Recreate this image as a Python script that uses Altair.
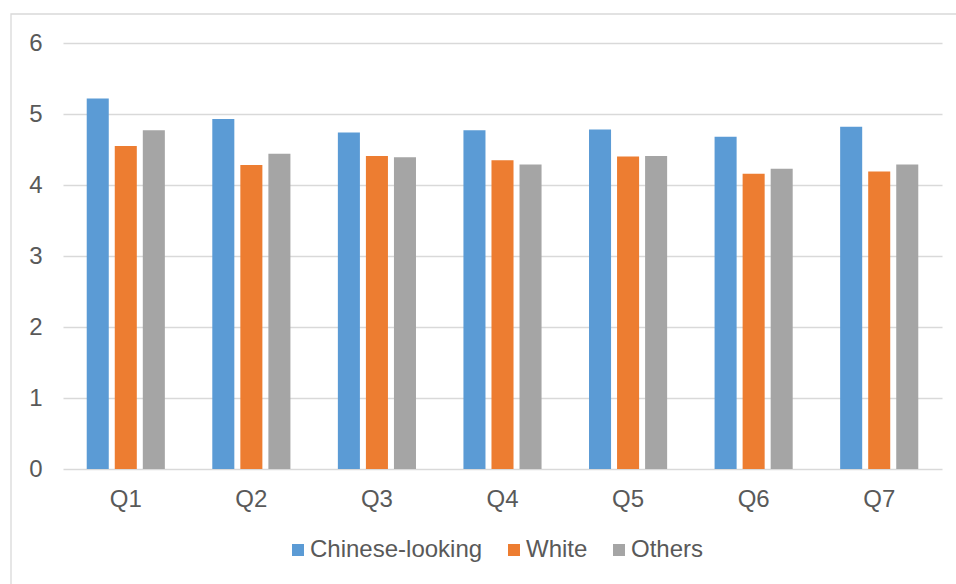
import altair as alt
import pandas as pd

questions = ["Q1", "Q2", "Q3", "Q4", "Q5", "Q6", "Q7"]
groups = ["Chinese-looking", "White", "Others"]
chinese_looking = [5.22, 4.93, 4.74, 4.77, 4.78, 4.68, 4.82]
white = [4.55, 4.28, 4.41, 4.35, 4.40, 4.16, 4.19]
others = [4.77, 4.44, 4.39, 4.29, 4.41, 4.23, 4.29]
colors = ["#5B9BD5", "#ED7D31", "#A5A5A5"]
y_ticks = [0, 1, 2, 3, 4, 5, 6]

rows = []
for g, vals in zip(groups, [chinese_looking, white, others]):
    for q, v in zip(questions, vals):
        rows.append({"question": q, "group": g, "value": v})
df = pd.DataFrame(rows)

FONT = "Liberation Sans"
TXT = "#595959"
FS = 24
W, H = 879, 426

bars = alt.Chart(df).mark_bar().encode(
    x=alt.X("question:N", sort=questions,
            scale=alt.Scale(paddingInner=0, paddingOuter=0),
            axis=alt.Axis(title=None, labelAngle=0, ticks=False, domain=False,
                          grid=False, labelPadding=18, labelFontSize=FS,
                          labelColor=TXT, labelFont=FONT)),
    xOffset=alt.XOffset("group:N", sort=groups,
                        scale=alt.Scale(paddingInner=0.214, paddingOuter=0.846)),
    y=alt.Y("value:Q", scale=alt.Scale(domain=[0, 6], nice=False),
            axis=alt.Axis(title=None, values=y_ticks, ticks=False, domain=False,
                          grid=True, gridColor="#D9D9D9", gridWidth=1.3,
                          labelPadding=21, labelFontSize=FS, labelColor=TXT,
                          labelFont=FONT)),
    color=alt.Color("group:N", sort=groups,
                    scale=alt.Scale(domain=groups, range=colors),
                    legend=alt.Legend(title=None, orient="none", direction="horizontal",
                                      legendX=223, legendY=495,
                                      symbolType="square", symbolSize=144,
                                      symbolStrokeWidth=0, labelFontSize=FS,
                                      labelColor=TXT, labelFont=FONT, labelLimit=0,
                                      labelOffset=0, columnPadding=19)),
)

border = alt.Chart(alt.Data(values=[{}])).mark_rect(
    fillOpacity=0, stroke="#D9D9D9", strokeWidth=1.3
).encode(
    x=alt.value(-52), x2=alt.value(W + 40),
    y=alt.value(-29), y2=alt.value(H + 160),
)

chart = alt.layer(border, bars).properties(
    width=W, height=H,
    autosize=alt.AutoSizeParams(type="none"),
    padding={"left": 63, "top": 43, "right": 14, "bottom": 115},
    background="white",
).configure_view(stroke=None)

chart.save("out.html", embed_options={"renderer": "svg", "actions": False})
